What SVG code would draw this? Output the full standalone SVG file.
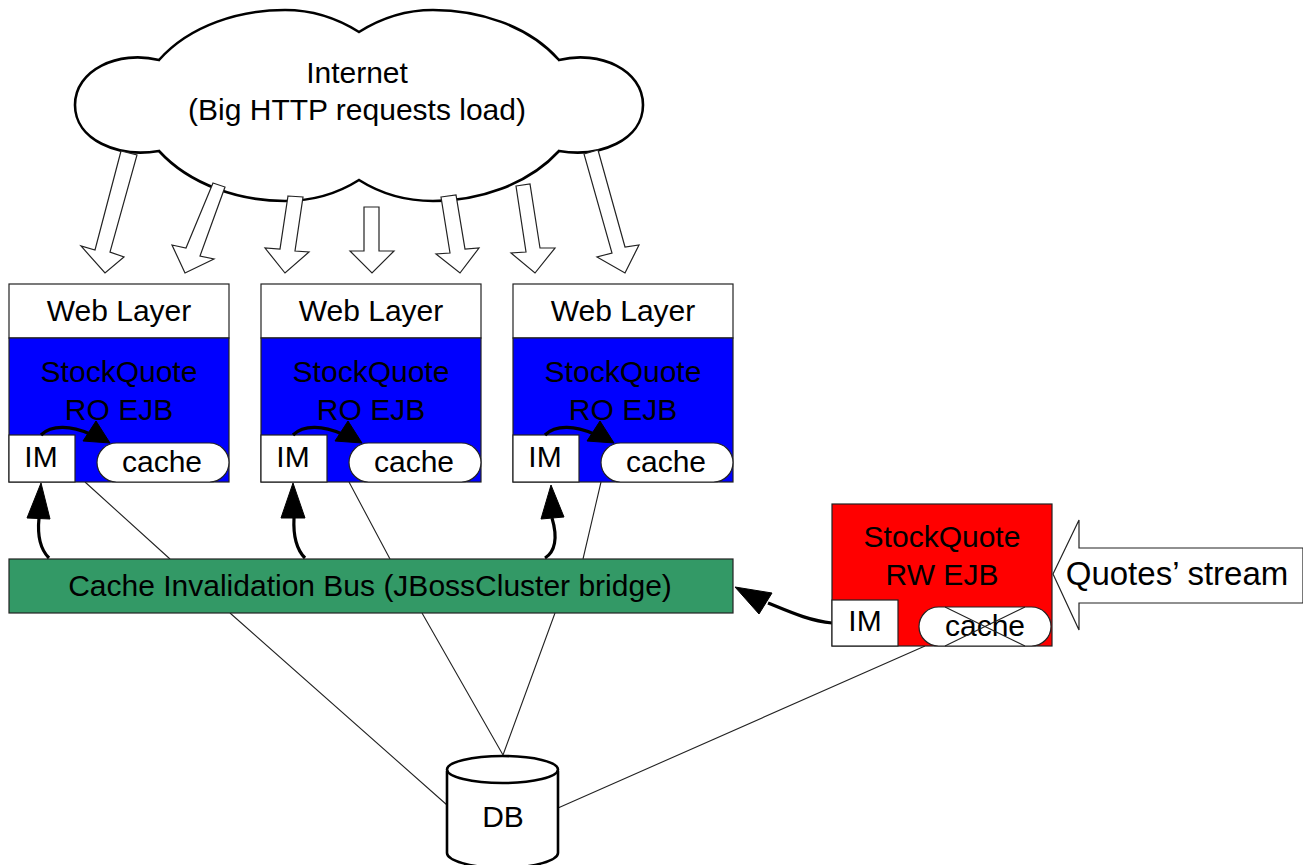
<svg xmlns="http://www.w3.org/2000/svg" width="1303" height="865" viewBox="0 0 1303 865">
<style>
text{font-family:"Liberation Sans",Arial,sans-serif;font-size:30px;fill:#000;text-anchor:middle}
.box{stroke:#222;stroke-width:1.2}
.w{fill:#fff}
.b{fill:#0000ff}
.block{fill:#fff;stroke:#222;stroke-width:1.2;stroke-linejoin:miter}
.thin{fill:none;stroke:#222;stroke-width:1.1}
.cv{fill:none;stroke:#000;stroke-width:3.2}
.hd{fill:#000;stroke:#000;stroke-width:1}
</style>
<rect width="1303" height="865" fill="#fff"/>
<g id="connectors">
<path class="thin" d="M85 482L170 559M230 613L447 805M349 482L390 559M422 613L503 755M601 482L583 559M555 613L503 755M925 646L558 808"/>
</g>
<g id="internet">
<path d="M159 60C190 25 240 10 285 10C315 10 340 20 359 32C378 20 403 10 433 10C478 10 528 25 559 60C600 50 643 70 643 105C643 140 600 158 559 151C528 185 478 201 433 201C403 201 378 192 359 180C340 192 315 201 285 201C240 201 190 185 159 151C118 158 75 140 75 105C75 70 118 50 159 60Z" fill="#fff" stroke="#000" stroke-width="2.6" stroke-linejoin="miter"/>
<text x="357" y="83">Internet</text>
<text x="357" y="120">(Big HTTP requests load)</text>
</g>
<g id="load-arrows">
<polygon class="block" points="121,151 137,155 110,252 124,257 105,273 81,246 95,250"/>
<polygon class="block" points="213,183 225,187 200,256 214,259 185,273 172,245 186,248"/>
<polygon class="block" points="288,196 303,197 295,251 309,252 285,273 265,248 280,249"/>
<polygon class="block" points="364,207 379,207 379,251 394,251 372,273 350,251 364,251"/>
<polygon class="block" points="441,197 456,195 465,249 479,248 460,273 436,254 450,253"/>
<polygon class="block" points="516,186 530,184 540,248 555,248 535,273 511,253 526,252"/>
<polygon class="block" points="584,154 598,150 625,247 639,245 625,273 597,257 612,253"/>
</g>
<g id="server-1">
<rect class="box w" x="9" y="284" width="220" height="54"/>
<rect class="box b" x="9" y="338" width="220" height="144"/>
<rect class="box w" x="9" y="435" width="66" height="47"/>
<rect class="box w" x="97" y="443" width="132" height="39" rx="19.5"/>
<text x="119" y="321">Web Layer</text>
<text x="119" y="382">StockQuote</text>
<text x="119" y="420">RO EJB</text>
<text x="41" y="467">IM</text>
<text x="162" y="472">cache</text>
<path class="cv" d="M41 435C52 424 72 426 90 434"/>
<polygon class="hd" points="110,443 83,441 96,421"/>
</g>
<g id="server-2">
<rect class="box w" x="261" y="284" width="220" height="54"/>
<rect class="box b" x="261" y="338" width="220" height="144"/>
<rect class="box w" x="261" y="435" width="66" height="47"/>
<rect class="box w" x="349" y="443" width="132" height="39" rx="19.5"/>
<text x="371" y="321">Web Layer</text>
<text x="371" y="382">StockQuote</text>
<text x="371" y="420">RO EJB</text>
<text x="293" y="467">IM</text>
<text x="414" y="472">cache</text>
<path class="cv" d="M293 435C304 424 324 426 342 434"/>
<polygon class="hd" points="362,443 335,441 348,421"/>
</g>
<g id="server-3">
<rect class="box w" x="513" y="284" width="220" height="54"/>
<rect class="box b" x="513" y="338" width="220" height="144"/>
<rect class="box w" x="513" y="435" width="66" height="47"/>
<rect class="box w" x="601" y="443" width="132" height="39" rx="19.5"/>
<text x="623" y="321">Web Layer</text>
<text x="623" y="382">StockQuote</text>
<text x="623" y="420">RO EJB</text>
<text x="545" y="467">IM</text>
<text x="666" y="472">cache</text>
<path class="cv" d="M545 435C556 424 576 426 594 434"/>
<polygon class="hd" points="614,443 587,441 600,421"/>
</g>
<g id="bus">
<rect x="9" y="559" width="724" height="54" fill="#339966" stroke="#222" stroke-width="1.2"/>
<text x="370" y="596">Cache Invalidation Bus (JBossCluster bridge)</text>
</g>
<g id="bus-arrows">
<path class="cv" d="M49 558C41 550 37 538 39 518"/>
<polygon class="hd" points="41,483 27,518 50,519"/>
<path class="cv" d="M305 558C297 550 293 538 294 518"/>
<polygon class="hd" points="293,483 281,518 305,518"/>
<path class="cv" d="M545 558C555 552 558 538 552 518"/>
<polygon class="hd" points="551,485 541,519 564,517"/>
<path class="cv" d="M832 623C810 621 790 612 768 603"/>
<polygon class="hd" points="735,587 772,593 759,614"/>
</g>
<g id="server-rw">
<rect class="box" x="832" y="504" width="220" height="142" fill="#ff0000"/>
<rect class="box w" x="832" y="600" width="66" height="46"/>
<rect class="box w" x="919" y="607" width="132" height="39" rx="19.5"/>
<text x="942" y="547">StockQuote</text>
<text x="942" y="585">RW EJB</text>
<text x="865" y="631">IM</text>
<text x="985" y="636">cache</text>
<path class="thin" d="M945 607L1025 646M945 646L1025 607"/>
</g>
<g id="quotes-stream">
<polygon class="block" points="1053,574 1079,520 1079,548 1303,548 1303,603 1079,603 1079,630"/>
<text x="1177" y="585" style="font-size:33px">Quotes’ stream</text>
</g>
<g id="db">
<path d="M447 771V853C447 860 470 868 502 868C535 868 558 860 558 853V771" fill="#fff" stroke="#000" stroke-width="2.6"/>
<ellipse cx="502.500" cy="769.500" rx="55.500" ry="13.500" fill="#fff" stroke="#000" stroke-width="2.6"/>
<text x="503" y="827">DB</text>
</g>
</svg>
